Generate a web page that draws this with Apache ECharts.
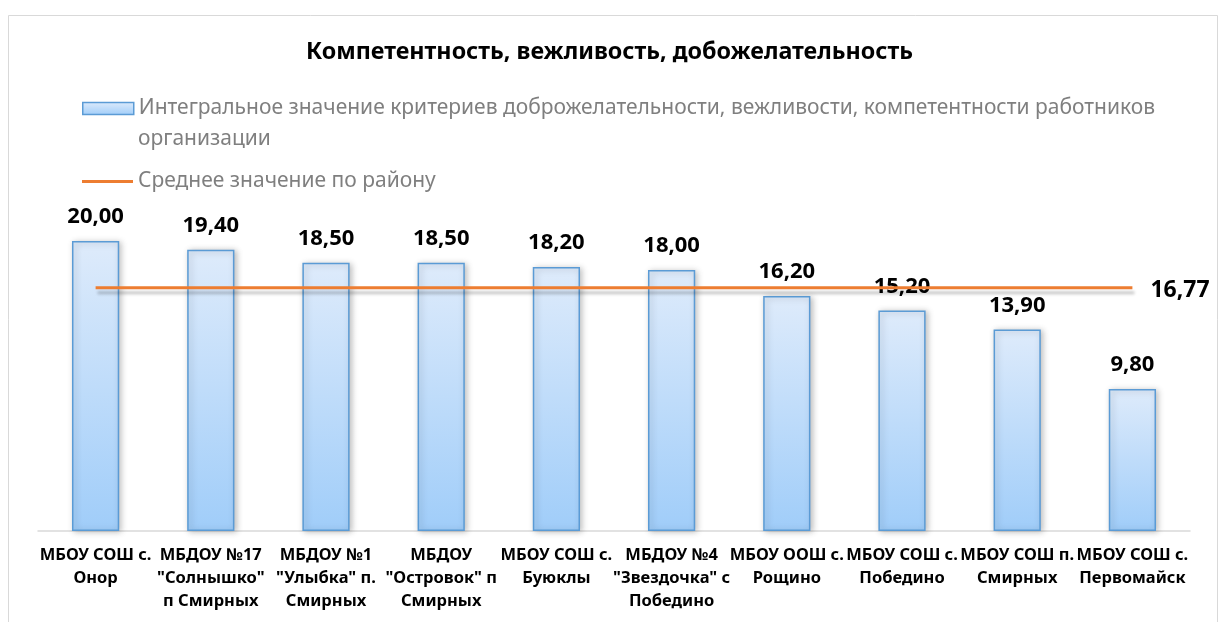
<!DOCTYPE html>
<html>
<head>
<meta charset="utf-8">
<script src="https://cdn.jsdelivr.net/npm/echarts@6/dist/echarts.min.js"></script>
<style>
html,body{margin:0;padding:0;background:#fff;}
#chart{width:1219px;height:622px;}
</style>
</head>
<body>
<div id="chart"></div>
<script>
const titleText = 'Компетентность, вежливость, добожелательность';
const barName = 'Интегральное значение критериев доброжелательности, вежливости, компетентности работников организации';
const lineName = 'Среднее значение по району';
const categories = [
  'МБОУ СОШ с.\nОнор',
  'МБДОУ №17\n"Солнышко"\nп Смирных',
  'МБДОУ №1\n"Улыбка" п.\nСмирных',
  'МБДОУ\n"Островок" п\nСмирных',
  'МБОУ СОШ с.\nБуюклы',
  'МБДОУ №4\n"Звездочка" с\nПобедино',
  'МБОУ ООШ с.\nРощино',
  'МБОУ СОШ с.\nПобедино',
  'МБОУ СОШ п.\nСмирных',
  'МБОУ СОШ с.\nПервомайск'
];
const barValues = [20.00, 19.40, 18.50, 18.50, 18.20, 18.00, 16.20, 15.20, 13.90, 9.80];
const avgValues = [16.77, 16.77, 16.77, 16.77, 16.77, 16.77, 16.77, 16.77, 16.77, 16.77];

const FONT = 'Noto Sans';
const fmt = v => v.toFixed(2).replace('.', ',');

const chart = echarts.init(document.getElementById('chart'), null, {renderer: 'canvas'});
chart.setOption({
  backgroundColor: '#fff',
  animation: false,
  textStyle: {fontFamily: FONT},
  title: {
    text: titleText,
    left: 'center',
    top: 36,
    textStyle: {fontFamily: FONT, fontSize: 23.3, fontWeight: 'bold', color: '#000'}
  },
  legend: [
    {
      data: [{name: barName, icon: 'rect'}],
      left: 82,
      top: 98,
      padding: 0,
      itemWidth: 51,
      itemHeight: 12,
      formatter: () => 'Интегральное значение критериев доброжелательности, вежливости, компетентности работников',
      itemStyle: {borderColor: '#5b9bd5', borderWidth: 1.5},
      textStyle: {fontFamily: FONT, fontSize: 21, color: '#7f7f7f'}
    },
    {
      data: [{name: lineName, icon: 'rect'}],
      left: 82,
      top: 171,
      padding: 0,
      itemWidth: 51,
      itemHeight: 3,
      textStyle: {fontFamily: FONT, fontSize: 21, color: '#7f7f7f'}
    }
  ],
  graphic: [
    {
      type: 'rect',
      shape: {x: 8.5, y: 15.5, width: 1209, height: 640},
      style: {fill: 'none', stroke: '#d9d9d9', lineWidth: 1},
      silent: true,
      z: -10
    },
    {
      type: 'text',
      left: 138,
      top: 129,
      style: {text: 'организации', font: '21px "Noto Sans"', fill: '#7f7f7f'}
    }
  ],
  grid: {left: 38, right: 29, top: 212, bottom: 91, containLabel: false},
  xAxis: {
    type: 'category',
    data: categories,
    axisLine: {show: true, lineStyle: {color: '#d9d9d9', width: 1.5}},
    axisTick: {show: false},
    axisLabel: {
      interval: 0,
      margin: 13,
      fontFamily: FONT,
      fontSize: 16.5,
      fontWeight: 'bold',
      color: '#000',
      lineHeight: 23
    }
  },
  yAxis: {
    type: 'value',
    min: 0,
    max: 22,
    show: false,
    splitLine: {show: false}
  },
  series: [
    {
      name: barName,
      type: 'bar',
      data: barValues,
      barWidth: '41%',
      itemStyle: {
        color: new echarts.graphic.LinearGradient(0, 0, 0, 1, [
          {offset: 0, color: '#deebfb'},
          {offset: 1, color: '#a0cdf9'}
        ]),
        borderColor: '#5b9bd5',
        borderWidth: 1.5,
        shadowColor: 'rgba(0,0,0,0.25)',
        shadowBlur: 6,
        shadowOffsetX: 2,
        shadowOffsetY: 1
      },
      label: {
        show: true,
        position: 'top',
        distance: 13,
        formatter: p => fmt(p.value),
        fontFamily: FONT,
        fontSize: 22,
        fontWeight: 'bold',
        color: '#000'
      }
    },
    {
      name: lineName,
      type: 'line',
      data: avgValues,
      symbol: 'none',
      lineStyle: {
        color: '#ed7d31',
        width: 3,
        shadowColor: 'rgba(0,0,0,0.22)',
        shadowBlur: 3,
        shadowOffsetY: 5,
        shadowOffsetX: 2
      },
      itemStyle: {color: '#ed7d31'},
      endLabel: {
        show: true,
        formatter: p => fmt(p.value),
        distance: 18,
        offset: [0, 3],
        fontFamily: FONT,
        fontSize: 23,
        fontWeight: 'bold',
        color: '#000'
      },
      z: 5
    }
  ]
});
</script>
</body>
</html>
